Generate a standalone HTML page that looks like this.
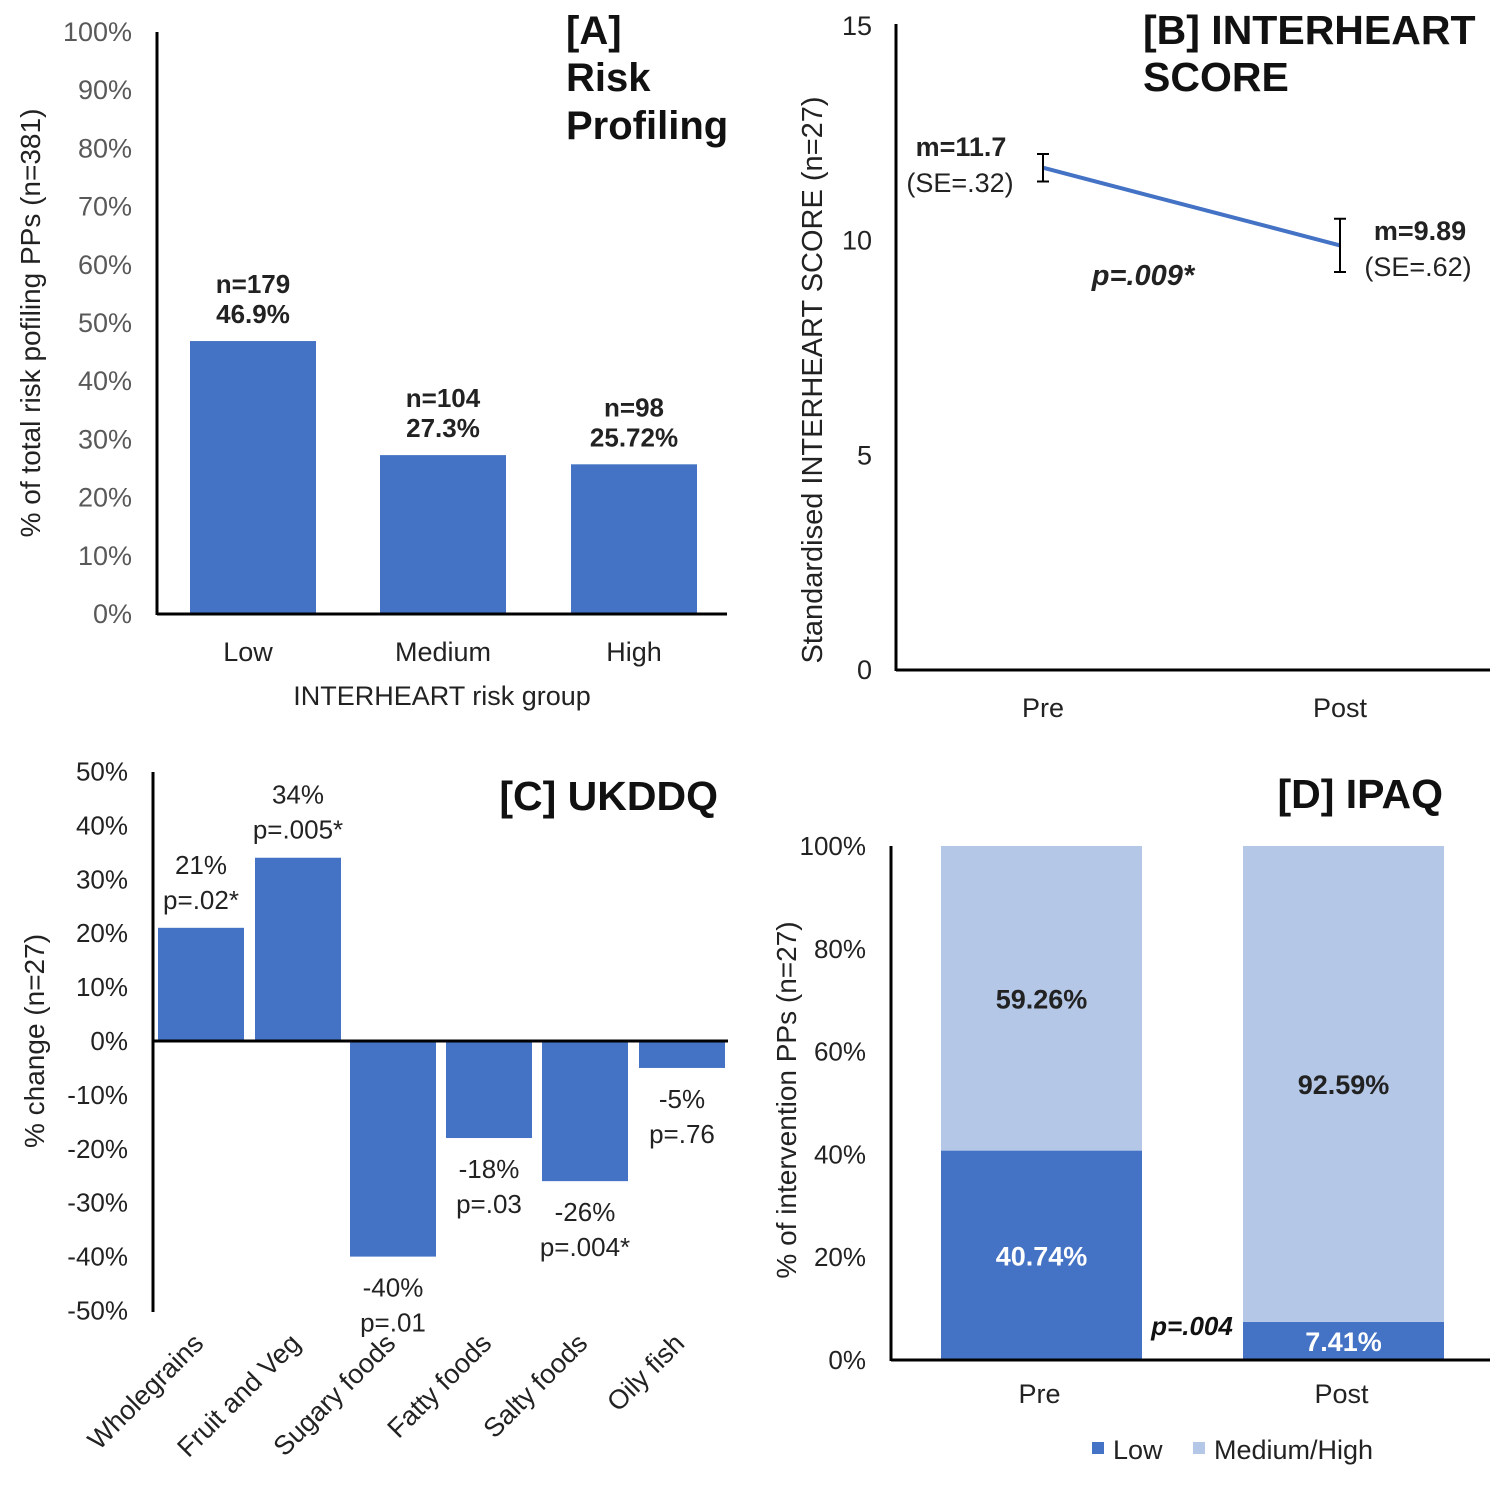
<!DOCTYPE html>
<html><head><meta charset="utf-8"><style>
html,body{margin:0;padding:0;background:#fff}
svg{display:block;font-family:"Liberation Sans",Arial,sans-serif}
</style></head><body>
<svg id="s" width="1500" height="1490" viewBox="0 0 1500 1490" xmlns="http://www.w3.org/2000/svg"></svg>
<script>
const aCats=["Low","Medium","High"];
const aVals=[46.9,27.3,25.72];
const aLab1=["n=179","n=104","n=98"];
const aLab2=["46.9%","27.3%","25.72%"];
const aTicks=[0,10,20,30,40,50,60,70,80,90,100];
const bCats=["Pre","Post"];
const bMeans=[11.7,9.89];
const bSE=[0.32,0.62];
const bTicks=[0,5,10,15];
const cCats=["Wholegrains","Fruit and Veg","Sugary foods","Fatty foods","Salty foods","Oily fish"];
const cVals=[21,34,-40,-18,-26,-5];
const cP=["p=.02*","p=.005*","p=.01","p=.03","p=.004*","p=.76"];
const cTicks=[50,40,30,20,10,0,-10,-20,-30,-40,-50];
const dCats=["Pre","Post"];
const dLow=[40.74,7.41];
const dMed=[59.26,92.59];
const dTicks=[0,20,40,60,80,100];

const S=document.getElementById('s');
const NS="http://www.w3.org/2000/svg";
function el(t,a,txt,par){const e=document.createElementNS(NS,t);for(const k in a)e.setAttribute(k,a[k]);if(txt!=null)e.textContent=txt;(par||S).appendChild(e);return e;}
const BLUE="#4472C4",LIGHT="#B4C7E7";

// ---------- Panel A ----------
const ay=v=>614-v*5.82;
const aBX=[190,380,571],aBW=126;
aTicks.forEach(t=>{const e=el('text',{x:132,y:ay(t)+9,'text-anchor':'end','font-size':27,fill:'#595959'},t+'%');
});
aVals.forEach((v,i)=>{const r=el('rect',{x:aBX[i],y:ay(v),width:aBW,height:614-ay(v),fill:BLUE});

const cx=aBX[i]+aBW/2;
const t1=el('text',{x:cx,y:ay(v)-48,'text-anchor':'middle','font-size':26,'font-weight':'bold',fill:'#222'},aLab1[i]);

const t2=el('text',{x:cx,y:ay(v)-18,'text-anchor':'middle','font-size':26,'font-weight':'bold',fill:'#222'},aLab2[i]);

const c=el('text',{x:cx-(i==0?5:0),y:661,'text-anchor':'middle','font-size':27,fill:'#222'},aCats[i]);
});
el('line',{x1:157,y1:32,x2:157,y2:615,stroke:'#000','stroke-width':3,});
el('line',{x1:157,y1:614,x2:727,y2:614,stroke:'#000','stroke-width':3,});
el('text',{x:442,y:705,'text-anchor':'middle','font-size':27,fill:'#222',},'INTERHEART  risk group');
el('text',{transform:'translate(40,323) rotate(-90)','text-anchor':'middle','font-size':28,fill:'#222',},'% of total risk pofiling PPs (n=381)');
const at=el('text',{'font-size':40,'font-weight':'bold',fill:'#111',});
[['[A]',44],['Risk',91],['Profiling',139]].forEach(([s,y])=>el('tspan',{x:566,y:y},s,at));

// ---------- Panel B ----------
const by=v=>670-v*42.93;
const bX=[1043,1340];
bTicks.forEach(t=>{const e=el('text',{x:872,y:by(t)+9,'text-anchor':'end','font-size':27,fill:'#222'},t);
});
el('line',{x1:896,y1:24,x2:896,y2:671,stroke:'#000','stroke-width':3,});
el('line',{x1:896,y1:670,x2:1490,y2:670,stroke:'#000','stroke-width':3,});
const pl=el('polyline',{points:bMeans.map((m,i)=>bX[i]+','+by(m)).join(' '),fill:'none',stroke:BLUE,'stroke-width':4});

bMeans.forEach((m,i)=>{const x=bX[i],hi=by(m+bSE[i]),lo=by(m-bSE[i]);
const g=el('path',{d:`M${x},${hi}V${lo}M${x-6},${hi}H${x+6}M${x-6},${lo}H${x+6}`,stroke:'#000','stroke-width':2,fill:'none'});

const c=el('text',{x:x,y:717,'text-anchor':'middle','font-size':27,fill:'#222'},bCats[i]);
});
el('text',{x:961,y:156,'text-anchor':'middle','font-size':27,'font-weight':'bold',fill:'#222',},'m='+bMeans[0]);
el('text',{x:960,y:192,'text-anchor':'middle','font-size':27,fill:'#222',},'(SE=.32)');
el('text',{x:1420,y:240,'text-anchor':'middle','font-size':27,'font-weight':'bold',fill:'#222',},'m='+bMeans[1]);
el('text',{x:1418,y:276,'text-anchor':'middle','font-size':27,fill:'#222',},'(SE=.62)');
el('text',{x:1143,y:285,'text-anchor':'middle','font-size':29,'font-weight':'bold','font-style':'italic',fill:'#222',},'p=.009*');
el('text',{transform:'translate(822,380) rotate(-90)','text-anchor':'middle','font-size':29,fill:'#222',},'Standardised INTERHEART  SCORE (n=27)');
const bt=el('text',{'font-size':41,'font-weight':'bold',fill:'#111',});
[['[B] INTERHEART',44],['SCORE',91]].forEach(([s,y])=>el('tspan',{x:1143,y:y},s,bt));

// ---------- Panel C ----------
const cy=v=>1041-v*5.39;
const cBX=[158,255,350,446,542,639],cBW=86;
cTicks.forEach(t=>{const e=el('text',{x:128,y:cy(t)+9,'text-anchor':'end','font-size':26,fill:'#222'},t+'%');
});
cVals.forEach((v,i)=>{const y0=Math.min(cy(v),cy(0)),h=Math.abs(cy(v)-cy(0));
const r=el('rect',{x:cBX[i],y:y0,width:cBW,height:h,fill:BLUE});

const cx=cBX[i]+cBW/2;
const base=v>=0?cy(v)-54:cy(v)+40;
const t1=el('text',{x:cx,y:base,'text-anchor':'middle','font-size':26,fill:'#222'},v+'%');

const t2=el('text',{x:cx,y:base+35,'text-anchor':'middle','font-size':26,fill:'#222'},cP[i]);

const c=el('text',{transform:`translate(${cx+4},${1345}) rotate(-45)`,'text-anchor':'end','font-size':27,fill:'#222'},cCats[i]);
});
el('line',{x1:153,y1:772,x2:153,y2:1312,stroke:'#000','stroke-width':3,});
el('line',{x1:153,y1:cy(0),x2:728,y2:cy(0),stroke:'#000','stroke-width':3,});
el('text',{transform:'translate(44,1041) rotate(-90)','text-anchor':'middle','font-size':28,fill:'#222',},'% change (n=27)');
el('text',{x:718,y:810,'text-anchor':'end','font-size':41,'font-weight':'bold',fill:'#111',},'[C] UKDDQ');

// ---------- Panel D ----------
const dy=v=>1360-v*5.14;
const dBX=[941,1243],dBW=201;
dTicks.forEach(t=>{const e=el('text',{x:866,y:dy(t)+9,'text-anchor':'end','font-size':26,fill:'#222'},t+'%');
});
dCats.forEach((c,i)=>{const x=dBX[i],cx=x+dBW/2;
const r1=el('rect',{x:x,y:dy(dLow[i]),width:dBW,height:dy(0)-dy(dLow[i]),fill:BLUE});

const r2=el('rect',{x:x,y:dy(dLow[i]+dMed[i]),width:dBW,height:dy(dLow[i])-dy(dLow[i]+dMed[i]),fill:LIGHT});

const t1=el('text',{x:cx,y:(dy(0)+dy(dLow[i]))/2+10,'text-anchor':'middle','font-size':27,'font-weight':'bold',fill:'#fff'},dLow[i].toFixed(2)+'%');

const t2=el('text',{x:cx,y:(dy(dLow[i])+dy(dLow[i]+dMed[i]))/2+10,'text-anchor':'middle','font-size':27,'font-weight':'bold',fill:'#222'},dMed[i].toFixed(2)+'%');

const xl=el('text',{x:cx-2,y:1403,'text-anchor':'middle','font-size':27,fill:'#222'},c);
});
el('line',{x1:891,y1:846,x2:891,y2:1361,stroke:'#000','stroke-width':3,});
el('line',{x1:891,y1:1360,x2:1490,y2:1360,stroke:'#000','stroke-width':3,});
el('text',{x:1192,y:1335,'text-anchor':'middle','font-size':26,'font-weight':'bold','font-style':'italic',fill:'#111',},'p=.004');
el('text',{transform:'translate(796,1100) rotate(-90)','text-anchor':'middle','font-size':28,fill:'#222',},'% of intervention PPs (n=27)');
el('text',{x:1443,y:808,'text-anchor':'end','font-size':41,'font-weight':'bold',fill:'#111',},'[D] IPAQ');
el('rect',{x:1092,y:1442,width:12,height:12,fill:BLUE,});
el('text',{x:1113,y:1459,'font-size':27,fill:'#222',},'Low');
el('rect',{x:1193,y:1442,width:12,height:12,fill:LIGHT,});
el('text',{x:1214,y:1459,'font-size':27,fill:'#222',},'Medium/High');
</script>
</body></html>
